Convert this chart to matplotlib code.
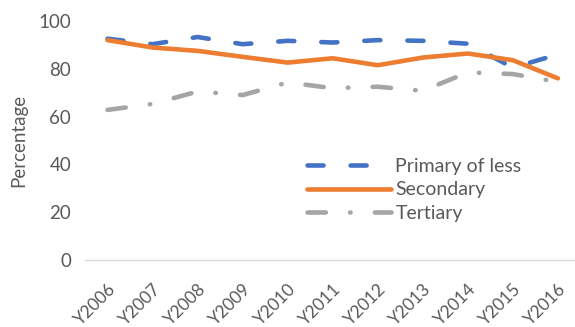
import matplotlib
matplotlib.use("Agg")
import matplotlib.pyplot as plt

years = ["Y2006", "Y2007", "Y2008", "Y2009", "Y2010", "Y2011",
         "Y2012", "Y2013", "Y2014", "Y2015", "Y2016"]
primary = [92.6, 90.3, 93.3, 90.3, 91.7, 91.0, 92.0, 91.7, 90.5, 80.5, 86.0]
secondary = [92.0, 88.9, 87.5, 85.0, 82.6, 84.4, 81.5, 84.7, 86.4, 83.6, 76.0]
tertiary = [62.8, 65.3, 70.5, 69.0, 74.3, 71.9, 72.5, 70.8, 78.5, 77.8, 74.5]

text_color = "#595959"
plt.rcParams["font.family"] = ["Lato", "DejaVu Sans"]

fig = plt.figure(figsize=(5.75, 3.27), dpi=100)
ax = fig.add_axes([85 / 575, 1 - 260 / 327, 1 - 85 / 575, (260 - 21) / 327])

x = list(range(len(years)))
lw = 3.3
ax.plot(x, primary, color="#4472C4", lw=lw, ls=(0, (3.5, 5.9)),
        dash_capstyle="round", solid_capstyle="round", label="Primary of less")
ax.plot(x, secondary, color="#ED7D31", lw=lw, solid_capstyle="round",
        label="Secondary")
ax.plot(x, tertiary, color="#A5A5A5", lw=lw, ls=(0, (4.0, 5.3, 0.1, 5.3)),
        dash_capstyle="round", solid_capstyle="round", label="Tertiary")

ax.set_xlim(-0.5, 10.38)
ax.set_ylim(0, 100)
ax.set_yticks([0, 20, 40, 60, 80, 100])
ax.set_xticks(x)
ax.set_xticklabels(years, rotation=45, ha="right", rotation_mode="anchor")

for side in ["top", "right", "left"]:
    ax.spines[side].set_visible(False)
ax.spines["bottom"].set_color("#D9D9D9")
ax.spines["bottom"].set_linewidth(1.0)
ax.tick_params(axis="both", length=0, colors=text_color)
ax.tick_params(axis="y", pad=10, labelsize=13.5)
ax.tick_params(axis="x", pad=15, labelsize=12.5)

ax.set_ylabel("Percentage", color=text_color, fontsize=13.5, labelpad=8)

leg = ax.legend(loc="upper left", bbox_to_anchor=(307 / 575, (327 - 158) / 327),
                bbox_transform=fig.transFigure, frameon=False,
                fontsize=14, handlelength=4.3, handletextpad=0.25,
                labelspacing=0.33, borderaxespad=0, borderpad=0)
for t in leg.get_texts():
    t.set_color(text_color)

fig.savefig("out.png", dpi=100)
